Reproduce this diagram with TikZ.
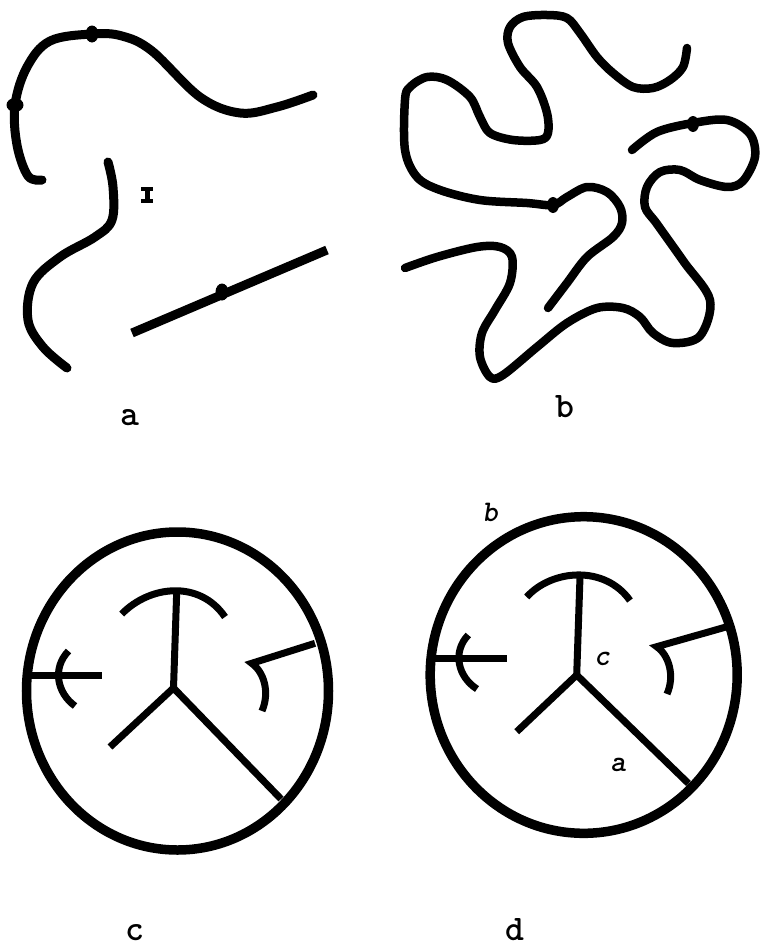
\documentclass[tikz,border=0pt]{standalone}
\usepackage{tikz}

\begin{document}
\begin{tikzpicture}[x=1pt, y=-1pt,
    chain/.style={line width=9pt, line cap=round, line join=round},
    rim/.style={line width=9.5pt},
    arm/.style={line width=7pt, line cap=butt},
    knot/.style={fill=black},
    panel/.style={font=\ttfamily\bfseries\fontsize{36}{36}\selectfont, inner sep=0pt},
    site/.style={font=\ttfamily\bfseries\slshape\fontsize{30}{30}\selectfont, inner sep=0pt}]
    \useasboundingbox (0,0) rectangle (760,951);
    % a: 三段链
    \draw[chain] plot[smooth, tension=0.6] coordinates {(42,180) (28,176) (17,145) (15,105)
        (27,67) (50,41) (92,34) (122,36) (152,51) (200,97) (240,113) (277,107) (313,95)};
    \draw[chain] plot[smooth, tension=0.6] coordinates {(108,162) (113,187) (112,220) (95,237)
        (60,257) (33,283) (28,320) (43,347) (67,368)};
    \coordinate (la) at (132,333);
    \coordinate (lb) at (327,250);
    \draw[chain, line cap=butt] (la) -- (lb);
    \fill[knot] (92,34) ellipse (6.5 and 8.5);
    \fill[knot] (15,105) ellipse (8.5 and 7);
    \fill[knot] (222,292) ellipse (6.5 and 8.5);
    % 小标记
    \draw[line width=5pt] (147,189) -- (147,201);
    \draw[line width=4pt] (141,189) -- (153,189) (141,201) -- (153,201);
    % b: 卷曲的链
    \draw[chain, line width=8.5pt] plot[smooth, tension=0.55] coordinates {(632,150) (657,132)
        (693,123) (727,120) (750,134) (755,157) (743,181) (727,187) (700,180) (680,170)
        (660,172) (647,187) (645,207) (657,224) (684,262) (710,300) (700,336) (673,343)
        (653,333) (640,317) (623,308) (597,308) (567,323) (537,347) (503,375) (490,377)
        (480,357) (482,333) (495,310) (510,283) (512,257) (500,247) (477,247) (437,257)
        (405,268)};
    \draw[chain, line width=8.5pt] plot[smooth, tension=0.55] coordinates {(548,308) (567,283)
        (587,257) (613,237) (622,223) (620,207) (607,192) (587,187) (567,197) (553,205)
        (527,203) (480,200) (440,190) (417,177) (405,150) (405,100) (410,87) (427,77)
        (447,80) (470,97) (480,117) (490,133) (513,140) (540,140) (548,133) (547,113)
        (537,87) (520,67) (508,43) (510,27) (523,17) (547,15) (567,18) (580,33) (597,57)
        (613,73) (633,87) (653,88) (670,80) (683,67) (687,48)};
    \fill[knot] (693,124) ellipse (6 and 8);
    \fill[knot] (553,205) ellipse (6 and 8);
    % c: 圆内的分支
    \coordinate (cc) at (177.5,691);
    \coordinate (cy) at (173.5,688);
    \draw[rim] (cc) ellipse (151 and 159);
    \draw[arm] (cy) -- (176.7,592);
    \draw[arm] (121.7,614) .. controls (150,585) and (200,580) .. (225,617);
    \draw[arm] (110,747) -- (cy) -- (281,799);
    \draw[arm] (27,675) -- (101.7,675);
    \draw[arm] (68.5,651) .. controls (52,668) and (57,693) .. (75,706);
    \draw[arm, line join=miter] (315,643.3) -- (251.7,663.3) .. controls (264,672) and (270,692) .. (262,711);
    % d: 同上，带标注
    \coordinate (dc) at (583.7,675);
    \coordinate (dy) at (576.7,675);
    \draw[rim] (dc) ellipse (153.5 and 158.3);
    \draw[arm] (dy) -- (580,577);
    \draw[arm] (526.7,597) .. controls (552,569) and (605,565) .. (630,600.5);
    \draw[arm] (516.7,731.7) -- (dy) -- (688.5,783.5);
    \draw[arm] (430,658.3) -- (506.7,658.3);
    \draw[arm] (468.3,635) .. controls (452,652) and (458,677) .. (477,689);
    \draw[arm, line join=miter] (727,626.7) -- (656.7,646.7) .. controls (669,655) and (675,676) .. (667,694);
    \node[site] (sb) at (490,512) {b};
    \node[site] (sc) at (602,659) {c};
    \node[site] (sa) at (618,765) {a};
    % 图号
    \node[panel] (pa) at (130,418) {a};
    \node[panel] (pb) at (565,407) {b};
    \node[panel] (pc) at (135,933) {c};
    \node[panel] (pd) at (515,930) {d};
\end{tikzpicture}
\end{document}
